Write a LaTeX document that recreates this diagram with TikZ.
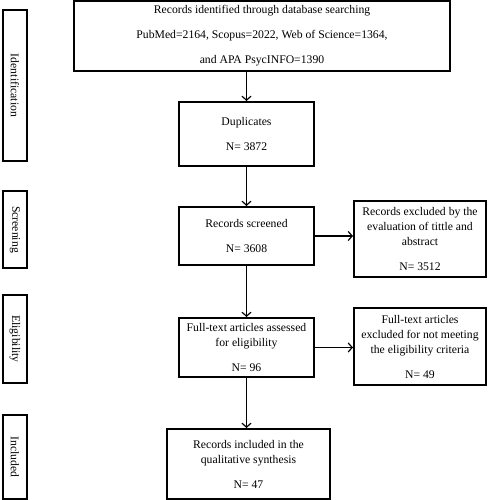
\documentclass[tikz,border=0pt]{standalone}
\usepackage{fontspec}
\setmainfont{Liberation Serif}
\usetikzlibrary{calc, positioning, arrows.meta}

\begin{document}
\begin{tikzpicture}[
  x = 1pt, y = -1pt, thick,
  every node/.style = {font = \fontsize{11.7}{15}\selectfont},
  box/.style = {draw, line width = 2pt, align = center, inner sep = 2pt},
  stage/.style = {draw, line width = 2pt, minimum width = 24pt, inner sep = 0pt},
  flow/.style = {-{Straight Barb[length = 4pt, width = 9pt, line width = 1.2pt]}, line width = 1.4pt}
]
\useasboundingbox (0,0) rectangle (488,500);

% main column
\node[box, minimum width = 376pt, minimum height = 70pt] (search) at (262,36)
  {Records identified through database searching\\[10pt]
   PubMed=2164, Scopus=2022, Web of Science=1364,\\[10pt]
   and APA PsycINFO=1390};
\node[box, minimum width = 135pt, minimum height = 64pt] (dup) at (246.5,134)
  {Duplicates\\[10pt] N= 3872};
\node[box, minimum width = 135pt, minimum height = 58pt] (screen) at (246.5,236)
  {Records screened\\[10pt] N= 3608};
\node[box, minimum width = 135pt, minimum height = 59pt] (full) at (246.5,347.5)
  {Full-text articles assessed\\ for eligibility\\[10pt] N= 96};
\node[box, minimum width = 163pt, minimum height = 70pt] (incl) at (248.5,464)
  {Records included in the\\ qualitative synthesis\\[10pt] N= 47};

% excluded column
\node[box, minimum width = 132pt, minimum height = 76pt] (excl1) at (420,239)
  {Records excluded by the\\ evaluation of tittle and\\ abstract\\[10pt] N= 3512};
\node[box, minimum width = 132pt, minimum height = 77pt] (excl2) at (420,346.5)
  {Full-text articles\\ excluded for not meeting\\ the eligibility criteria\\[10pt] N= 49};

% stages
\node[stage, minimum height = 151pt] (sid) at (15,85.5) {};
\node[rotate = -90] at (sid) {Identification};
\node[stage, minimum height = 77pt] (sscr) at (15,229.5) {};
\node[rotate = -90] at (sscr) {Screening};
\node[stage, minimum height = 88pt] (selig) at (15,339) {};
\node[rotate = -90] at (selig) {Eligibility};
\node[stage, minimum height = 84pt] (sinc) at (15,457) {};
\node[rotate = -90] at (sinc) {Included};

% arrows
\draw[flow] (search.south -| dup.north) -- (dup.north);
\draw[flow] (dup) -- (screen);
\draw[flow] (screen) -- (full);
\draw[flow] (full) -- (full |- incl.north);
\draw[flow] (screen.east) -- (screen.east -| excl1.west);
\draw[flow] (full.east) -- (full.east -| excl2.west);

\end{tikzpicture}
\end{document}
